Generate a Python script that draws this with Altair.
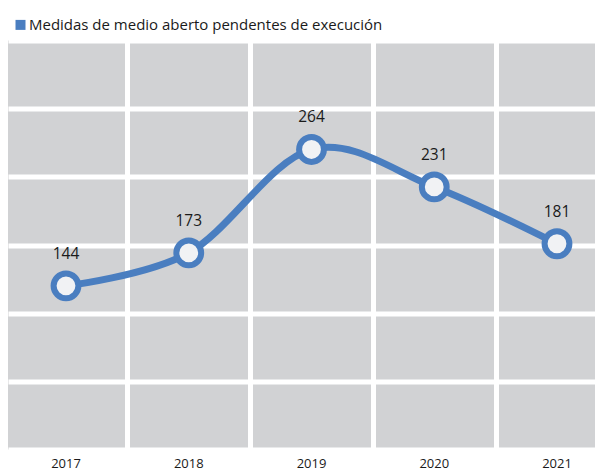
import altair as alt
import pandas as pd

years = [2017, 2018, 2019, 2020, 2021]
year_labels = ["2017", "2018", "2019", "2020", "2021"]
values = [144, 173, 264, 231, 181]
series_name = "Medidas de medio aberto pendentes de execución"

BLUE = "#4a7ec0"
GRAY = "#d1d2d4"
FONT = "Open Sans"
TXT = "#1a1a1a"

df = pd.DataFrame({
    "year": years,
    "label": year_labels,
    "value": values,
    "series": [series_name] * len(years),
})

W, H = 587, 409

x = alt.X(
    "year:Q",
    scale=alt.Scale(domain=[2016.5275, 2021.3096], nice=False, zero=False),
    axis=alt.Axis(values=[2017.5, 2018.5, 2019.5, 2020.5], labels=False, ticks=False,
                  domain=False, grid=True, gridColor="white", gridWidth=5, gridOpacity=1,
                  title=None),
)
y = alt.Y(
    "value:Q",
    scale=alt.Scale(domain=[0, 360], nice=False, zero=True),
    axis=alt.Axis(values=[0, 60, 120, 180, 240, 300, 360], labels=False, ticks=False,
                  domain=False, grid=True, gridColor="white", gridWidth=5, gridOpacity=1,
                  title=None),
)

base = alt.Chart(df)

line = base.mark_line(interpolate="cardinal", strokeWidth=7).encode(
    x=x,
    y=y,
    color=alt.Color(
        "series:N",
        scale=alt.Scale(range=[BLUE]),
        legend=alt.Legend(
            title=None, orient="none", legendX=5, legendY=-23,
            symbolType="square", symbolSize=100, symbolFillColor=BLUE,
            symbolStrokeColor=BLUE, symbolStrokeWidth=0,
            labelFont=FONT, labelFontSize=15, labelColor=TXT, labelOffset=1,
            padding=0, labelLimit=500,
        ),
    ),
)

points = base.mark_circle(
    fill="#f1f2f4", stroke=BLUE, strokeWidth=6, size=616, opacity=1
).encode(x=x, y=y)

value_labels = base.mark_text(
    dy=-32, fontSize=15.5, font=FONT, color=TXT, baseline="middle"
).encode(x=x, y=y, text="value:Q")

year_text = base.mark_text(
    fontSize=13, font=FONT, color=TXT, baseline="middle"
).encode(x=x, y=alt.value(H + 15), text="label:N")

chart = (
    alt.layer(line, points, value_labels, year_text)
    .properties(
        width=W, height=H,
        padding={"left": 0, "top": 32.4, "right": 0, "bottom": 25},
        autosize=alt.AutoSizeParams(type="none"),
    )
    .configure_view(fill=GRAY, stroke=None)
)

chart.save("out.html", embed_options={"renderer": "svg", "actions": False})
